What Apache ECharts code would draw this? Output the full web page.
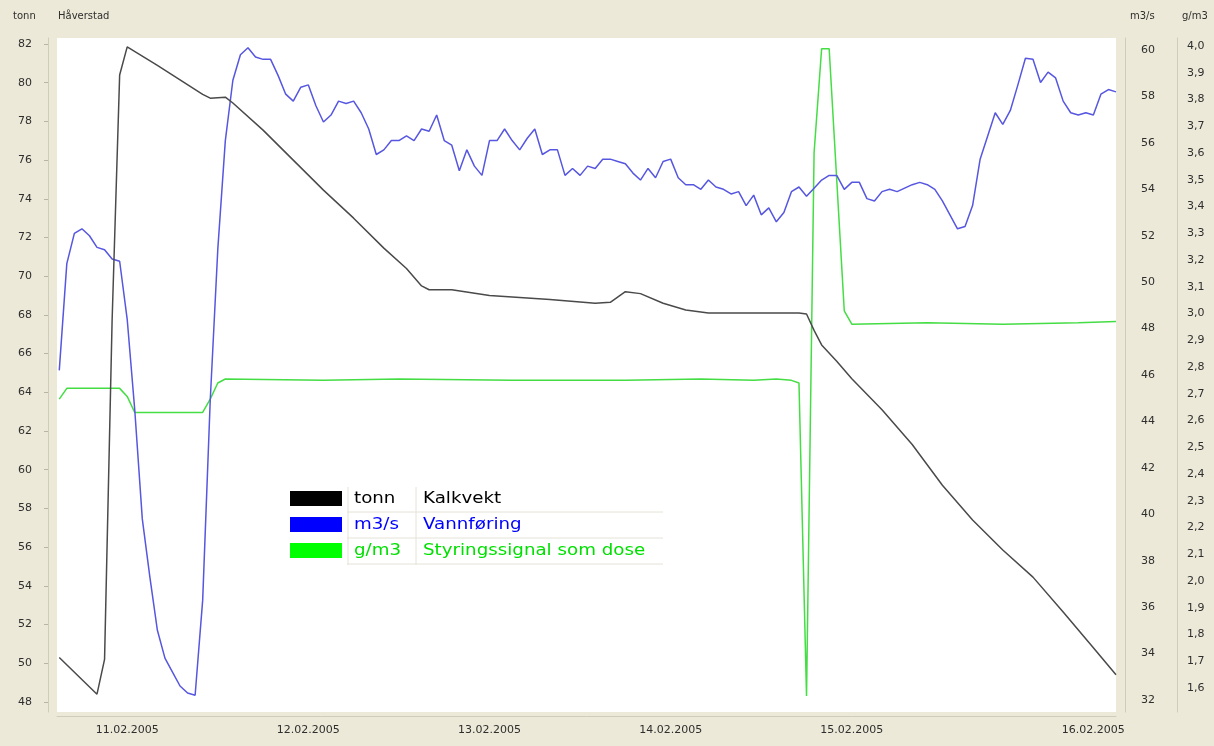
<!DOCTYPE html>
<html>
<head>
<meta charset="utf-8">
<script src="https://cdn.jsdelivr.net/npm/echarts@6/dist/echarts.min.js"></script>
<style>
html,body{margin:0;padding:0;background:#ECE9D8;}
#chart{width:1214px;height:746px;}
</style>
</head>
<body>
<div id="chart"></div>
<script>
// Time is hours since 10.02.2005 00:00
const xTickHours = [24, 48, 72, 96, 120, 152];
const xTickLabels = ['11.02.2005', '12.02.2005', '13.02.2005', '14.02.2005', '15.02.2005', '16.02.2005'];
const tonnTicks = [48, 50, 52, 54, 56, 58, 60, 62, 64, 66, 68, 70, 72, 74, 76, 78, 80, 82];
const flowTicks = [32, 34, 36, 38, 40, 42, 44, 46, 48, 50, 52, 54, 56, 58, 60];
const doseTicks = [1.6, 1.7, 1.8, 1.9, 2.0, 2.1, 2.2, 2.3, 2.4, 2.5, 2.6, 2.7, 2.8, 2.9, 3.0, 3.1, 3.2, 3.3, 3.4, 3.5, 3.6, 3.7, 3.8, 3.9, 4.0];

// Kalkvekt (tonn)
const tonnHours = [15, 20, 21, 22, 23, 24, 28, 34, 35, 37, 38, 42, 46, 50, 54, 58, 61, 63, 64, 67, 72, 80, 86, 88, 90, 92, 95, 98, 101, 108, 113, 114, 115, 116, 118, 120, 124, 128, 132, 136, 140, 144, 148, 152, 155];
const tonnValues = [50.3, 48.4, 50.2, 67.7, 80.4, 81.85, 80.9, 79.4, 79.2, 79.25, 78.95, 77.55, 76.0, 74.45, 73.0, 71.45, 70.4, 69.5, 69.3, 69.3, 69.0, 68.8, 68.6, 68.65, 69.2, 69.1, 68.6, 68.25, 68.1, 68.1, 68.1, 68.05, 67.2, 66.45, 65.6, 64.7, 63.1, 61.3, 59.2, 57.4, 55.85, 54.45, 52.65, 50.8, 49.4];

// Vannføring (m3/s), hourly readings from hour 15
const flowStartHour = 15;
const flowValues = [
  46.2, 50.8, 52.1, 52.3, 52.0, 51.5, 51.4, 51.0, 50.9, 48.4,
  44.5, 39.8, 37.3, 35.0, 33.8, 33.2, 32.6, 32.3, 32.2, 36.3,
  44.9, 51.4, 56.1, 58.7, 59.8, 60.1, 59.7, 59.6, 59.6, 58.9,
  58.1, 57.8, 58.4, 58.5, 57.6, 56.9, 57.2, 57.8, 57.7, 57.8,
  57.3, 56.6, 55.5, 55.7, 56.1, 56.1, 56.3, 56.1, 56.6, 56.5,
  57.2, 56.1, 55.9, 54.8, 55.7, 55.0, 54.6, 56.1, 56.1, 56.6,
  56.1, 55.7, 56.2, 56.6, 55.5, 55.7, 55.7, 54.6, 54.9, 54.6,
  55.0, 54.9, 55.3, 55.3, 55.2, 55.1, 54.7, 54.4, 54.9, 54.5,
  55.2, 55.3, 54.5, 54.2, 54.2, 54.0, 54.4, 54.1, 54.0, 53.8,
  53.9, 53.3, 53.75, 52.9, 53.2, 52.6, 53.0, 53.9, 54.1, 53.7,
  54.05, 54.4, 54.6, 54.6, 54.0, 54.3, 54.3, 53.6, 53.5, 53.9,
  54.0, 53.9, 54.05, 54.2, 54.3, 54.2, 54.0, 53.5, 52.9, 52.3,
  52.4, 53.3, 55.3, 56.3, 57.3, 56.8, 57.4, 58.5, 59.65, 59.6,
  58.6, 59.05, 58.8, 57.8, 57.3, 57.2, 57.3, 57.2, 58.1, 58.3,
  58.2
];

// Styringssignal som dose (g/m3)
const doseHours = [15, 16, 20, 23, 24, 25, 30, 34, 35, 36, 37, 50, 60, 75, 90, 100, 107, 110, 112, 113, 114, 115, 116, 117, 118, 119, 120, 130, 140, 150, 155];
const doseValues = [2.68, 2.72, 2.72, 2.72, 2.69, 2.63, 2.63, 2.63, 2.68, 2.74, 2.755, 2.75, 2.755, 2.75, 2.75, 2.755, 2.75, 2.755, 2.75, 2.74, 1.57, 3.6, 3.99, 3.99, 3.5, 3.01, 2.96, 2.965, 2.96, 2.965, 2.97];

const tonnData = tonnHours.map((h, i) => [h, tonnValues[i]]);
const flowData = flowValues.map((v, i) => [flowStartHour + i, v]);
const doseData = doseHours.map((h, i) => [h, doseValues[i]]);

const chart = echarts.init(document.getElementById('chart'));
const font = 'DejaVu Sans';
const lblColor = '#2e2e2e';
const axisLineColor = '#cfcbbd';

const legendRows = [
  {sw: '#000000', unit: 'tonn', name: 'Kalkvekt', color: '#000000'},
  {sw: '#0000ff', unit: 'm3/s', name: 'Vannføring', color: '#0000ff'},
  {sw: '#00ff00', unit: 'g/m3', name: 'Styringssignal som dose', color: '#00e000'}
];
const legendEls = [];
legendRows.forEach((r, i) => {
  const y = 491 + i * 26;
  legendEls.push({type: 'rect', shape: {x: 290, y: y, width: 52, height: 15}, style: {fill: r.sw}});
  legendEls.push({type: 'text', x: 354, y: y + 8, scaleX: 1.14, style: {text: r.unit, fill: r.color, font: '16px "DejaVu Sans"', textVerticalAlign: 'middle'}});
  legendEls.push({type: 'text', x: 423, y: y + 8, scaleX: 1.14, style: {text: r.name, fill: r.color, font: '16px "DejaVu Sans"', textVerticalAlign: 'middle'}});
  legendEls.push({type: 'line', shape: {x1: 347, y1: y + 21, x2: 663, y2: y + 21}, style: {stroke: '#e6e2d6', lineWidth: 1}});
});
legendEls.push({type: 'line', shape: {x1: 348, y1: 487, x2: 348, y2: 565}, style: {stroke: '#e6e2d6', lineWidth: 1}});
legendEls.push({type: 'line', shape: {x1: 416, y1: 487, x2: 416, y2: 565}, style: {stroke: '#e6e2d6', lineWidth: 1}});

const option = {
  backgroundColor: '#ECE9D8',
  animation: false,
  grid: {left: 57, right: 98, top: 38, bottom: 34, show: true, backgroundColor: '#ffffff', borderWidth: 0},
  xAxis: {
    type: 'value', min: 14.7, max: 155, offset: 4,
    axisLine: {show: true, lineStyle: {color: axisLineColor}},
    axisTick: {show: false},
    splitLine: {show: false},
    axisLabel: {
      customValues: xTickHours, margin: 9, color: lblColor, fontSize: 11, fontFamily: font,
      formatter: v => { const i = xTickHours.indexOf(v); return i >= 0 ? xTickLabels[i] : ''; }
    }
  },
  yAxis: [
    {
      type: 'value', position: 'left', min: 47.48, max: 82.31, offset: 9,
      axisLine: {show: true, lineStyle: {color: axisLineColor}},
      axisTick: {show: true, customValues: tonnTicks, length: 4, lineStyle: {color: '#b8b4a8'}},
      splitLine: {show: false},
      axisLabel: {customValues: tonnTicks, margin: 16, color: lblColor, fontSize: 11, fontFamily: font}
    },
    {
      type: 'value', position: 'right', min: 31.48, max: 60.52, offset: 9,
      axisLine: {show: true, lineStyle: {color: axisLineColor}},
      axisTick: {show: false},
      splitLine: {show: false},
      axisLabel: {customValues: flowTicks, margin: 16, color: lblColor, fontSize: 11, fontFamily: font}
    },
    {
      type: 'value', position: 'right', min: 1.51, max: 4.03, offset: 61,
      axisLine: {show: true, lineStyle: {color: axisLineColor}},
      axisTick: {show: false},
      splitLine: {show: false},
      axisLabel: {customValues: doseTicks, margin: 10, color: lblColor, fontSize: 11, fontFamily: font,
        formatter: v => v.toFixed(1).replace('.', ',')}
    }
  ],
  graphic: [
    {type: 'text', left: 13, top: 11, style: {text: 'tonn', fill: lblColor, font: '10px "DejaVu Sans"'}},
    {type: 'text', left: 58, top: 11, style: {text: 'Håverstad', fill: lblColor, font: '10px "DejaVu Sans"'}},
    {type: 'text', left: 1130, top: 11, style: {text: 'm3/s', fill: lblColor, font: '10px "DejaVu Sans"'}},
    {type: 'text', left: 1182, top: 11, style: {text: 'g/m3', fill: lblColor, font: '10px "DejaVu Sans"'}},
    {type: 'group', children: legendEls}
  ],
  series: [
    {name: 'Kalkvekt', type: 'line', yAxisIndex: 0, data: tonnData, showSymbol: false, lineStyle: {color: '#4a4a4a', width: 1.5}, itemStyle: {color: '#4a4a4a'}, z: 3},
    {name: 'Vannføring', type: 'line', yAxisIndex: 1, data: flowData, showSymbol: false, lineStyle: {color: '#5656e0', width: 1.5}, itemStyle: {color: '#5656e0'}, z: 2},
    {name: 'Styringssignal som dose', type: 'line', yAxisIndex: 2, data: doseData, showSymbol: false, lineStyle: {color: '#44dd44', width: 1.5}, itemStyle: {color: '#44dd44'}, z: 1}
  ]
};
chart.setOption(option);
</script>
</body>
</html>
